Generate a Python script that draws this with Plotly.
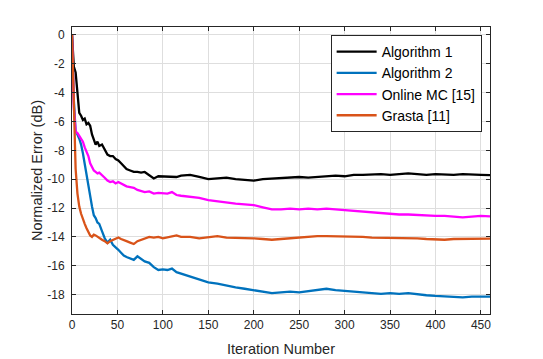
import plotly.graph_objects as go

iters = [0, 2, 4, 6, 8, 10, 12, 14, 16, 18, 20, 22, 24, 26, 28, 30,
         33, 36, 39, 42, 45, 48, 51, 54, 57, 60, 64, 68, 72, 76, 80,
         85, 90, 95, 100, 105, 110, 115, 120,
         130, 140, 150, 160, 170, 180, 190, 200, 210, 220, 230, 240, 250,
         260, 270, 280, 290, 300, 310, 320, 330, 340, 350, 360, 370, 380,
         390, 400, 410, 420, 430, 440, 450, 460]

alg1 = [0, -2.2, -2.6, -4.2, -5.4, -5.6, -5.9, -5.8, -6.2, -6.1, -6.3, -6.9, -7.3, -7.6, -7.4, -7.7,
        -7.6, -8.0, -8.3, -8.4, -8.4, -8.6, -8.7, -8.9, -9.1, -9.3, -9.4, -9.5, -9.5, -9.55, -9.5,
        -9.7, -9.95, -9.8, -9.8, -9.85, -9.8, -9.85, -9.75,
        -9.7, -9.85, -10.0, -9.95, -9.9, -10.0, -10.05, -10.1, -10.0, -9.95, -9.9, -9.9, -9.85,
        -9.9, -9.85, -9.8, -9.75, -9.8, -9.7, -9.7, -9.65, -9.65, -9.7, -9.65, -9.6, -9.65,
        -9.7, -9.65, -9.7, -9.7, -9.65, -9.7, -9.7, -9.72]

alg2 = [0, -4.5, -6.7, -6.9, -7.2, -7.6, -8.2, -9.0, -9.8, -10.6, -11.3, -11.9, -12.5, -12.7, -13.0, -13.1,
        -13.6, -14.1, -14.4, -14.2, -14.55, -14.7, -14.9, -15.1, -15.3, -15.4, -15.5, -15.6, -15.35, -15.5, -15.7,
        -15.8, -16.1, -16.3, -16.25, -16.3, -16.2, -16.45, -16.55,
        -16.75, -17.0, -17.15, -17.25, -17.4, -17.5, -17.6, -17.7, -17.8, -17.9, -17.85, -17.8, -17.85,
        -17.75, -17.7, -17.6, -17.7, -17.75, -17.8, -17.85, -17.95, -17.95, -17.9, -17.95, -17.9, -18.0,
        -18.05, -18.1, -18.15, -18.2, -18.2, -18.15, -18.15, -18.15]

online_mc = [0, -5.0, -6.7, -6.8, -7.0, -7.2, -7.4, -7.8, -8.1, -8.4, -8.9, -9.2, -9.4, -9.5, -9.6, -9.55,
             -9.7, -9.9, -10.1, -10.2, -10.15, -10.3, -10.2, -10.3, -10.4, -10.5, -10.55, -10.6, -10.75, -10.8, -10.9,
             -10.85, -11.0, -10.95, -10.95, -11.0, -10.9, -11.1, -11.15,
             -11.2, -11.3, -11.45, -11.55, -11.6, -11.7, -11.75, -11.8, -11.95, -12.1, -12.1, -12.05, -12.1,
             -12.05, -12.1, -12.05, -12.1, -12.15, -12.25, -12.3, -12.35, -12.4, -12.4, -12.45, -12.45, -12.5,
             -12.5, -12.55, -12.55, -12.6, -12.65, -12.6, -12.55, -12.58]

grasta = [0, -5.5, -9.3, -11.0, -11.9, -12.4, -12.8, -13.1, -13.4, -13.7, -13.9, -14.0, -13.85, -13.9, -14.0, -14.1,
          -14.2, -14.3, -14.45, -14.3, -14.2, -14.1, -14.05, -14.15, -14.2, -14.3, -14.4, -14.5, -14.3, -14.2, -14.1,
          -14.0, -14.05, -14.0, -14.1, -14.05, -13.95, -13.9, -14.0,
          -14.0, -14.1, -14.0, -13.95, -14.05, -14.05, -14.1, -14.1, -14.15, -14.2, -14.15, -14.1, -14.1,
          -14.0, -13.95, -13.95, -13.95, -13.95, -14.0, -14.0, -14.05, -14.05, -14.05, -14.1, -14.1, -14.1,
          -14.15, -14.2, -14.2, -14.15, -14.15, -14.1, -14.1, -14.12]

names = ["Algorithm 1", "Algorithm 2", "Online MC [15]", "Grasta [11]"]
colors = ["#000000", "#0072BD", "#FF00FF", "#D95319"]

x_ticks = [0, 50, 100, 150, 200, 250, 300, 350, 400, 450]
y_ticks = [0, -2, -4, -6, -8, -10, -12, -14, -16, -18]
y_ticktext = [str(v) for v in y_ticks]

fig = go.Figure()
for vals, name, col in zip([alg1, alg2, online_mc, grasta], names, colors):
    fig.add_trace(go.Scatter(x=iters, y=vals, mode="lines", name=name,
                             line=dict(color=col, width=2.3)))

axis_common = dict(showline=True, linecolor="#262626", linewidth=1, mirror="ticks",
                   ticks="inside", ticklen=4, tickcolor="#262626",
                   showgrid=True, gridcolor="#dedede", gridwidth=1, zeroline=False,
                   tickfont=dict(size=12, color="#262626"), automargin=False)

fig.update_xaxes(range=[0, 460], tickvals=x_ticks,
                 title=dict(text="Iteration Number", font=dict(size=14.5, color="#262626"), standoff=12),
                 **axis_common)
fig.update_yaxes(range=[-19.35, 0.55], tickvals=y_ticks, ticktext=y_ticktext,
                 ticklabelstandoff=4,
                 title=dict(text="Normalized Error (dB)", font=dict(size=14.5, color="#262626"), standoff=1),
                 **axis_common)

fig.update_layout(
    width=543, height=359,
    margin=dict(l=72, r=53, t=27, b=45),
    paper_bgcolor="white", plot_bgcolor="white",
    font=dict(family="Liberation Sans, Arial, sans-serif", color="#262626"),
    legend=dict(x=0.98, y=0.972, xanchor="right", yanchor="top",
                bgcolor="white", bordercolor="#262626", borderwidth=1,
                font=dict(size=14, color="#000000"), tracegroupgap=0,
                itemwidth=40),
    showlegend=True,
)

# browser default body margin shifts the figure by 8px, drop it
fig.write_html("out.html", config={"displayModeBar": False},
               post_script="document.body.style.margin='0';")
